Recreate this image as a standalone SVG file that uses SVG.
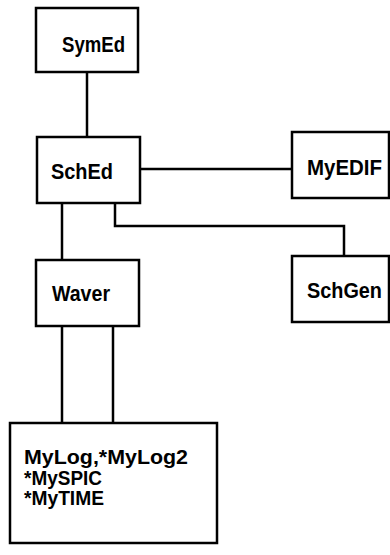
<svg xmlns="http://www.w3.org/2000/svg" width="390" height="555" viewBox="0 0 390 555">
<style>
.box{fill:#fff;stroke:#000;stroke-width:2.5}
.ln{fill:none;stroke:#000;stroke-width:2.5}
text{font-family:"Liberation Sans",Arial,sans-serif;font-weight:bold;fill:#000}
.lbl{font-size:22px}
.sm{font-size:20px}
</style>
<rect width="390" height="555" fill="#fff"/>
<g id="connectors">
<path class="ln" d="M87,72 V137"/>
<path class="ln" d="M140,169 H292"/>
<path class="ln" d="M115,203 V226 H344 V256"/>
<path class="ln" d="M62,203 V260"/>
<path class="ln" d="M62,326 V423"/>
<path class="ln" d="M113,326 V423"/>
</g>
<g id="SymEd"><rect class="box" x="36" y="8" width="102" height="64"/><text class="lbl" x="62" y="52" textLength="63" lengthAdjust="spacingAndGlyphs">SymEd</text></g>
<g id="SchEd"><rect class="box" x="37" y="137" width="103" height="66"/><text class="lbl" x="51" y="179" textLength="62" lengthAdjust="spacingAndGlyphs">SchEd</text></g>
<g id="MyEDIF"><rect class="box" x="292" y="132" width="97" height="66"/><text class="lbl" x="307" y="175" textLength="75" lengthAdjust="spacingAndGlyphs">MyEDIF</text></g>
<g id="SchGen"><rect class="box" x="292" y="256" width="97" height="66"/><text class="lbl" x="307" y="298" textLength="75" lengthAdjust="spacingAndGlyphs">SchGen</text></g>
<g id="Waver"><rect class="box" x="36" y="260" width="103" height="66"/><text class="lbl" x="52" y="301" textLength="58" lengthAdjust="spacingAndGlyphs">Waver</text></g>
<g id="MyLog"><rect class="box" x="10" y="423" width="207" height="120"/>
<text class="sm" x="24" y="464" textLength="164" lengthAdjust="spacingAndGlyphs">MyLog,*MyLog2</text>
<text class="sm" x="24" y="485" textLength="78" lengthAdjust="spacingAndGlyphs">*MySPIC</text>
<text class="sm" x="24" y="505" textLength="80" lengthAdjust="spacingAndGlyphs">*MyTIME</text>
</g>
</svg>
